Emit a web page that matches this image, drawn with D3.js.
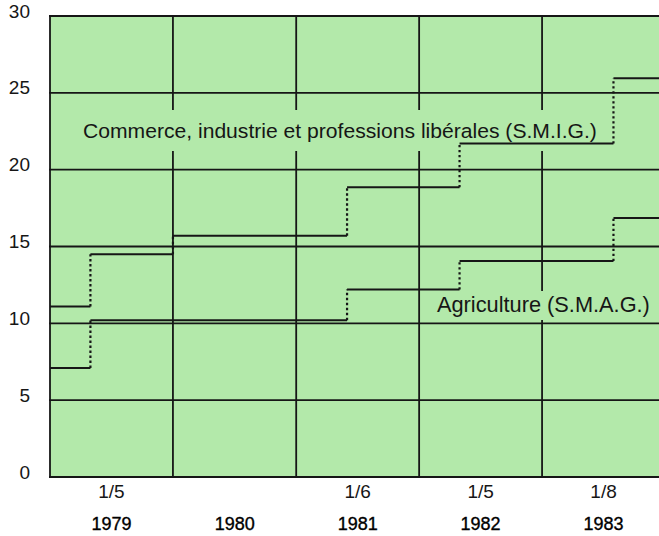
<!DOCTYPE html>
<html>
<head>
<meta charset="utf-8">
<script src="https://cdn.jsdelivr.net/npm/d3@7"></script>
<style>
  body { margin: 0; background: #fff; }
  svg { display: block; font-family: "Liberation Sans", Arial, sans-serif; }
</style>
</head>
<body>
<script>
// tick labels
const years = [1979, 1980, 1981, 1982, 1983];
const dateLabels = ["1/5", "", "1/6", "1/5", "1/8"];
const yTicks = [0, 5, 10, 15, 20, 25, 30];

// S.M.I.G. (commerce, industrie, professions libérales)
const smigDates = ["1979-01-01", "1979-05-01", "1980-01-01", "1981-06-01", "1982-05-01", "1983-08-01"];
const smigValues = [11.1, 14.5, 15.7, 18.85, 21.7, 25.95];

// S.M.A.G. (agriculture)
const smagDates = ["1979-01-01", "1979-05-01", "1981-06-01", "1982-05-01", "1983-08-01"];
const smagValues = [7.1, 10.2, 12.2, 14.05, 16.85];

const endDate = "1984-01-01";

const width = 659;
const height = 536;
const plotLeft = 50, plotTop = 16, plotBottom = 477;
const green = "#b3e9aa";
const ink = "#161616";

const parse = d3.utcParse("%Y-%m-%d");

const x = d3.scaleUtc()
    .domain([parse("1979-01-01"), parse(endDate)])
    .range([plotLeft, plotLeft + 123 * 5]);
const y = d3.scaleLinear()
    .domain([0, 30])
    .range([plotBottom, plotTop]);

const svg = d3.select("body")
    .append("svg")
    .attr("width", width)
    .attr("height", height);

// background
svg.append("rect")
    .attr("x", plotLeft)
    .attr("y", plotTop)
    .attr("width", width - plotLeft)
    .attr("height", plotBottom - plotTop)
    .attr("fill", green);

// GRID
const yearStarts = d3.range(1979, 1985).map(yr => new Date(Date.UTC(yr, 0, 1)));
svg.append("g").selectAll("line")
    .data(yTicks)
    .enter()
    .append("line")
    .attr("x1", plotLeft - 1)
    .attr("x2", width)
    .attr("y1", d => y(d))
    .attr("y2", d => y(d))
    .attr("stroke", ink)
    .attr("stroke-width", 1.8);
svg.append("g").selectAll("line")
    .data(yearStarts)
    .enter()
    .append("line")
    .attr("x1", d => x(d))
    .attr("x2", d => x(d))
    .attr("y1", plotTop - 1)
    .attr("y2", plotBottom + 1)
    .attr("stroke", ink)
    .attr("stroke-width", 1.8);

// label knock-outs (the grid is broken behind the captions)
svg.append("rect").attr("x", 80).attr("y", 110).attr("width", 522).attr("height", 41).attr("fill", green);
svg.append("rect").attr("x", 434).attr("y", 291).attr("width", 222).attr("height", 29).attr("fill", green);

// STEP LINES
function drawSteps(dates, values) {
    const g = svg.append("g");
    const ds = dates.map(parse);
    ds.forEach((d, i) => {
        const next = i < ds.length - 1 ? ds[i + 1] : parse(endDate);
        g.append("line")
            .attr("x1", x(d))
            .attr("x2", x(next))
            .attr("y1", y(values[i]))
            .attr("y2", y(values[i]))
            .attr("stroke", ink)
            .attr("stroke-width", 2);
        if (i > 0) {
            g.append("line")
                .attr("x1", x(d))
                .attr("x2", x(d))
                .attr("y1", y(values[i - 1]))
                .attr("y2", y(values[i]))
                .attr("stroke", ink)
                .attr("stroke-width", 2.2)
                .attr("stroke-dasharray", "2.4,2.6");
        }
    });
}
drawSteps(smigDates, smigValues);
drawSteps(smagDates, smagValues);

// captions: font size fitted to the width the caption takes in the original
function caption(str, cx, cy, w) {
    const t = svg.append("text")
        .attr("x", cx)
        .attr("y", cy)
        .attr("font-size", 18)
        .attr("fill", ink)
        .text(str);
    const natural = t.node().getComputedTextLength();
    t.attr("font-size", 18 * w / natural);
}
caption("Commerce, industrie et professions libérales (S.M.I.G.)", 83, 138, 514);
caption("Agriculture (S.M.A.G.)", 437, 312, 213);

// AXES
const yAxis = d3.axisLeft(y).tickValues(yTicks).tickSize(0).tickPadding(0);
const gy = svg.append("g")
    .attr("transform", "translate(30, 0)")
    .call(yAxis);
gy.select(".domain").remove();
gy.selectAll("text")
    .attr("font-size", 19)
    .attr("font-family", "Liberation Sans, Arial, sans-serif")
    .attr("fill", ink)
    .attr("dy", 1);

const midYears = years.map(yr => new Date(Date.UTC(yr, 6, 1)));
const xAxisDates = d3.axisBottom(x).tickValues(midYears).tickSize(0)
    .tickFormat((d, i) => dateLabels[i]);
const gx1 = svg.append("g")
    .attr("transform", "translate(0, 498)")
    .call(xAxisDates);
gx1.select(".domain").remove();
gx1.selectAll("text")
    .attr("y", 0)
    .attr("dy", 0)
    .attr("font-size", 19)
    .attr("font-family", "Liberation Sans, Arial, sans-serif")
    .attr("fill", ink);

const xAxisYears = d3.axisBottom(x).tickValues(midYears).tickSize(0)
    .tickFormat((d, i) => years[i]);
const gx2 = svg.append("g")
    .attr("transform", "translate(0, 530)")
    .call(xAxisYears);
gx2.select(".domain").remove();
gx2.selectAll("text")
    .attr("y", 0)
    .attr("dy", 0)
    .attr("font-size", 18)
    .attr("font-family", "Liberation Sans, Arial, sans-serif")
    .attr("fill", "#000")
    .attr("stroke", "#000")
    .attr("stroke-width", 0.35);
</script>
</body>
</html>
